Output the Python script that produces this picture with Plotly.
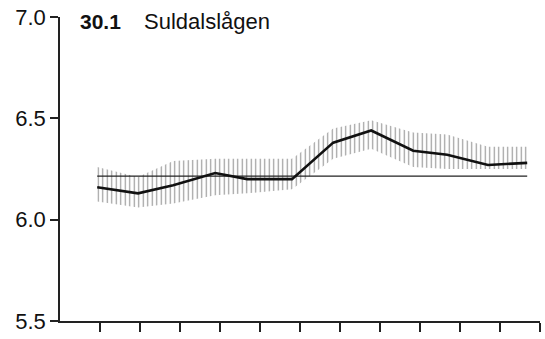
import plotly.graph_objects as go

# Monthly positions (month units along the x axis) and pH values
month_pos = [0.93, 1.95, 2.83, 3.88, 4.68, 5.80, 6.83, 7.78, 8.83, 9.68, 10.70, 11.68]
mean_ph = [6.16, 6.13, 6.17, 6.23, 6.20, 6.20, 6.38, 6.44, 6.34, 6.32, 6.27, 6.28]
upper_ph = [6.26, 6.21, 6.29, 6.30, 6.30, 6.30, 6.45, 6.49, 6.43, 6.42, 6.36, 6.36]
lower_ph = [6.09, 6.06, 6.08, 6.12, 6.13, 6.15, 6.30, 6.35, 6.26, 6.25, 6.25, 6.25]
annual_mean = 6.215

month_ticks = list(range(1, 13))
y_ticks = [5.5, 6.0, 6.5, 7.0]
y_labels = ["5.5", "6.0", "6.5", "7.0"]
station_no = "30.1"
station_name = "Suldalslågen"

FONT = "Liberation Sans, Arial, sans-serif"

fig = go.Figure()

# hatched spread band
fig.add_trace(go.Scatter(
    x=month_pos, y=lower_ph, mode="lines",
    line=dict(width=0), hoverinfo="skip", showlegend=False,
))
fig.add_trace(go.Scatter(
    x=month_pos, y=upper_ph, mode="lines",
    line=dict(width=0), fill="tonexty",
    fillcolor="rgba(0,0,0,0)",
    fillpattern=dict(shape="|", size=4.5, solidity=0.26,
                     fgcolor="#333333", bgcolor="rgba(0,0,0,0)"),
    hoverinfo="skip", showlegend=False,
))

# annual mean reference line
fig.add_trace(go.Scatter(
    x=[month_pos[0], month_pos[-1]], y=[annual_mean, annual_mean],
    mode="lines", line=dict(color="#222222", width=1.1),
    showlegend=False,
))

# monthly mean curve
fig.add_trace(go.Scatter(
    x=month_pos, y=mean_ph, mode="lines",
    line=dict(color="#111111", width=2.6),
    showlegend=False,
))

# station heading
fig.add_annotation(
    xref="paper", yref="y", x=0.0375, y=7.0, yshift=-4,
    xanchor="left", yanchor="middle", showarrow=False,
    text=f"<b>{station_no}</b>",
    font=dict(family=FONT, size=21, color="#111111"),
)
fig.add_annotation(
    xref="paper", yref="y", x=0.171, y=7.0, yshift=-4,
    xanchor="left", yanchor="middle", showarrow=False,
    text=station_name,
    font=dict(family=FONT, size=22, color="#111111"),
)

fig.update_xaxes(
    range=[0, 12], tickvals=month_ticks, showticklabels=False,
    ticks="outside", ticklen=9, tickwidth=1.5, tickcolor="#222222",
    showline=True, linecolor="#222222", linewidth=1.5,
    showgrid=False, zeroline=False,
)
fig.update_yaxes(
    range=[5.5, 7.0], tickvals=y_ticks, ticktext=y_labels,
    ticks="outside", ticklen=8, tickwidth=1.5, tickcolor="#222222",
    showline=True, linecolor="#222222", linewidth=1.5,
    showgrid=False, zeroline=False,
    tickfont=dict(family=FONT, size=22, color="#111111"),
)

fig.update_layout(
    width=545, height=339,
    margin=dict(l=60, r=5, t=17, b=11),
    plot_bgcolor="white", paper_bgcolor="white",
)

fig.write_html("out.html")
